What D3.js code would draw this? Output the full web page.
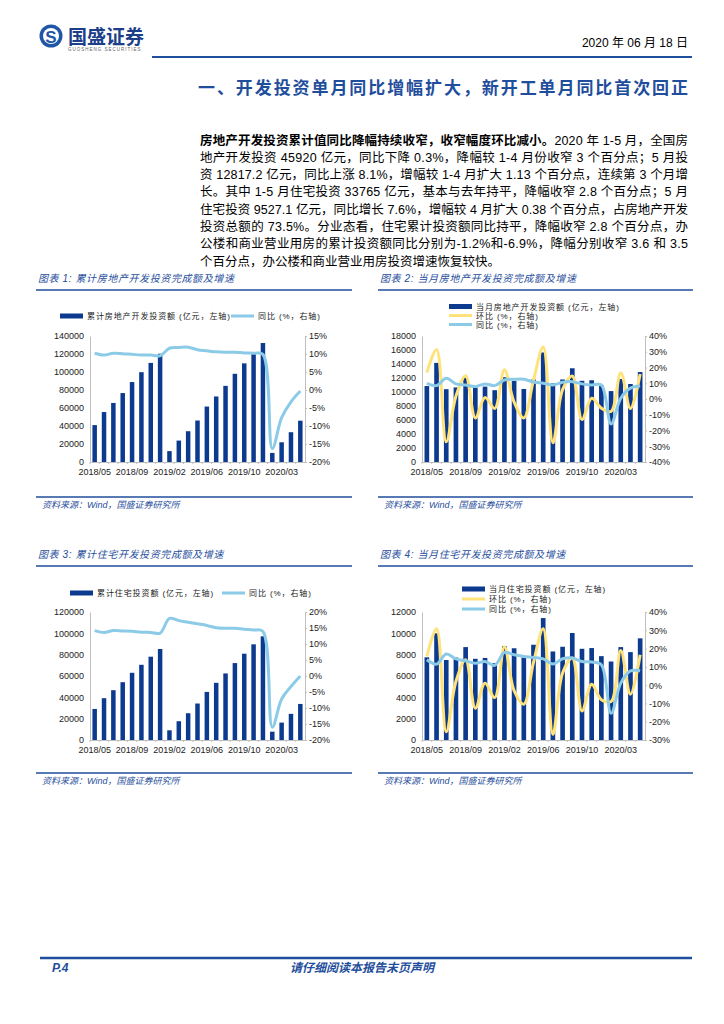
<!DOCTYPE html>
<html>
<head>
<meta charset="utf-8">
<script src="https://cdn.jsdelivr.net/npm/d3@7"></script>
<style>
  body { margin: 0; background: #fff; }
  svg { display: block; }
</style>
</head>
<body>
<svg id="page" width="724" height="1024"></svg>
<script>
// categories shared by all four charts (Jan+Feb reported together)
const categories = ["2018/05","2018/06","2018/07","2018/08","2018/09","2018/10","2018/11","2018/12",
  "2019/02","2019/03","2019/04","2019/05","2019/06","2019/07","2019/08","2019/09","2019/10","2019/11","2019/12",
  "2020/02","2020/03","2020/04","2020/05"];
const tickLabels = ["2018/05","2018/09","2019/02","2019/06","2019/10","2020/03"];

// chart 1: cumulative real estate investment
const cumInvest = [41000, 55500, 65600, 76600, 88800, 99800, 110100, 120300, 12100, 23800, 34200, 46100,
  61600, 72800, 84600, 98000, 109600, 121000, 132200, 10100, 21900, 33100, 45900];
const cumInvestYoy = [10.2, 9.7, 10.2, 10.1, 9.9, 9.7, 9.7, 9.5, 11.6, 11.8, 11.9, 11.2,
  10.9, 10.6, 10.5, 10.5, 10.3, 10.2, 9.9, -16.3, -7.7, -3.3, -0.3];

// chart 2: monthly real estate investment
const monthInvest = [10850, 14160, 10400, 10650, 12030, 10630, 10770, 10260, 12110, 11590, 10430, 11800,
  15650, 11230, 11790, 13390, 11600, 11680, 10960, 10130, 11850, 11140, 12850];
const monthInvestMom = [16.7, 31.5, -27.2, 1.8, 14.8, -12.0, 1.0, -6.0, 18.5, -2.0, -12.0, 12.0,
  33.0, -27.8, 6.0, 14.6, -13.0, 0.5, -5.8, -7.9, 16.7, -6.0, 15.9];
const monthInvestYoy = [10.0, 8.5, 13.1, 9.6, 8.9, 7.9, 9.6, 8.5, 12.1, 12.5, 12.5, 10.8,
  10.0, 8.9, 10.6, 11.0, 9.6, 8.9, 8.9, -15.8, 0.5, 6.9, 8.3];

// chart 3: cumulative residential investment
const cumResi = [29100, 39200, 46700, 54200, 63000, 70500, 78100, 85300, 9100, 17600, 25100, 34200,
  45100, 53600, 62400, 72100, 80900, 89700, 97200, 7800, 16300, 24500, 33800];
const cumResiYoy = [14.2, 13.6, 14.2, 14.1, 14.0, 13.7, 13.6, 13.4, 18.0, 17.3, 16.8, 16.3,
  15.8, 15.1, 14.9, 14.9, 14.6, 14.4, 13.9, -16.0, -7.2, -3.3, 0.0];

// chart 4: monthly residential investment
const monthResi = [7750, 10000, 7500, 7730, 8710, 7610, 7690, 7200, 8800, 8600, 7740, 8930,
  11430, 8300, 8740, 10030, 8550, 8620, 7860, 7360, 8710, 8240, 9530];
const monthResiMom = [15.7, 30.9, -25.5, 2.0, 13.9, -12.6, 1.1, -6.8, 21.0, -3.0, -10.4, 12.5,
  30.9, -26.9, 6.6, 14.8, -14.1, 0.5, -8.0, -9.0, 19.0, -5.0, 16.6];
const monthResiYoy = [13.9, 11.5, 17.0, 14.4, 13.3, 12.0, 12.9, 10.8, 17.9, 16.6, 15.7, 15.1,
  14.4, 11.5, 14.4, 14.8, 12.9, 12.6, 11.1, -15.4, 1.1, 7.8, 7.8];

const paragraph = [
  [["房地产开发投资累计值同比降幅持续收窄，收窄幅度环比减小。", true], ["2020 年 1-5 月，全国房", false]],
  [["地产开发投资 45920 亿元，同比下降 0.3%，降幅较 1-4 月份收窄 3 个百分点；5 月投", false]],
  [["资 12817.2 亿元，同比上涨 8.1%，增幅较 1-4 月扩大 1.13 个百分点，连续第 3 个月增", false]],
  [["长。其中 1-5 月住宅投资 33765 亿元，基本与去年持平，降幅收窄 2.8 个百分点；5 月", false]],
  [["住宅投资 9527.1 亿元，同比增长 7.6%，增幅较 4 月扩大 0.38 个百分点，占房地产开发", false]],
  [["投资总额的 73.5%。分业态看，住宅累计投资额同比持平，降幅收窄 2.8 个百分点，办", false]],
  [["公楼和商业营业用房的累计投资额同比分别为-1.2%和-6.9%，降幅分别收窄 3.6 和 3.5", false]],
  [["个百分点，办公楼和商业营业用房投资增速恢复较快。", false]]
];

const BLUE = "#1f4e9c";
const BAR = "#0b3a8e";
const SKY = "#8ccbe8";
const YELLOW = "#ffe27a";
const CJK = "'Liberation Sans','Noto Sans CJK SC',sans-serif";

const svg = d3.select("#page");

// ---------- header ----------
svg.append("circle").attr("cx", 51).attr("cy", 36).attr("r", 11.5).attr("fill", "#1f56a8");
svg.append("circle").attr("cx", 51).attr("cy", 36).attr("r", 8).attr("fill", "#fff");
svg.append("text").attr("x", 51).attr("y", 42.5).attr("text-anchor", "middle")
  .attr("font-family", CJK).attr("font-weight", "bold").attr("font-size", 17)
  .attr("fill", "#1f56a8").text("S");
svg.append("text").attr("x", 68).attr("y", 44).attr("font-family", CJK)
  .attr("font-weight", "bold").attr("font-size", 19).attr("fill", "#1d3f8a").text("国盛证券");
svg.append("text").attr("x", 68).attr("y", 51).attr("font-family", CJK)
  .attr("font-size", 4.5).attr("letter-spacing", 1).attr("fill", "#666").text("GUOSHENG SECURITIES");
svg.append("text").attr("x", 688).attr("y", 47).attr("text-anchor", "end")
  .attr("font-family", CJK).attr("font-size", 12).attr("fill", "#000").text("2020 年 06 月 18 日");
svg.append("line").attr("x1", 152).attr("x2", 692).attr("y1", 57).attr("y2", 57)
  .attr("stroke", BLUE).attr("stroke-width", 2);

svg.append("text").attr("x", 198).attr("y", 94).attr("font-family", CJK)
  .attr("font-weight", "bold").attr("font-size", 17).attr("fill", BLUE)
  .attr("textLength", 490).attr("lengthAdjust", "spacing")
  .text("一、开发投资单月同比增幅扩大，新开工单月同比首次回正");

// ---------- paragraph ----------
paragraph.forEach((parts, i) => {
  const t = svg.append("text").attr("x", 200).attr("y", 144.5 + i * 17.3)
    .attr("font-family", CJK).attr("font-size", 12.5).attr("fill", "#000");
  if (i < paragraph.length - 1) t.attr("textLength", 488).attr("lengthAdjust", "spacing");
  parts.forEach(([s, bold]) => {
    t.append("tspan").attr("font-weight", bold ? "bold" : "normal").text(s);
  });
});

// ---------- captions / rules ----------
function frame(x0, x1, capY, srcY, caption) {
  svg.append("text").attr("x", x0 + 2).attr("y", capY).attr("font-family", CJK)
    .attr("font-size", 10).attr("font-style", "italic").attr("letter-spacing", 0.6)
    .attr("fill", BLUE).text(caption);
  svg.append("line").attr("x1", x0).attr("x2", x1).attr("y1", capY + 8).attr("y2", capY + 8)
    .attr("stroke", BLUE).attr("stroke-width", 1.5);
  svg.append("line").attr("x1", x0).attr("x2", x1).attr("y1", srcY).attr("y2", srcY)
    .attr("stroke", BLUE).attr("stroke-width", 1.5);
  svg.append("text").attr("x", x0 + 6).attr("y", srcY + 10.5).attr("font-family", CJK)
    .attr("font-size", 9).attr("font-style", "italic").attr("fill", BLUE).text("资料来源：Wind，国盛证券研究所");
}
frame(36, 352, 282, 497, "图表 1:  累计房地产开发投资完成额及增速");
frame(378, 693, 282, 497, "图表 2:  当月房地产开发投资完成额及增速");
frame(36, 352, 558, 773, "图表 3:  累计住宅开发投资完成额及增速");
frame(378, 693, 558, 773, "图表 4:  当月住宅开发投资完成额及增速");

// ---------- charts ----------
function styleAxis(sel) {
  sel.select(".domain").attr("stroke", "#bfbfbf");
  sel.selectAll(".tick line").attr("stroke", "#bfbfbf");
  sel.selectAll("text").attr("font-family", CJK).attr("font-size", 9).attr("fill", "#222");
}

function drawChart(c) {
  const g = svg.append("g");
  const x = d3.scaleBand().domain(categories).range([c.x0, c.x1])
    .paddingInner(0.52).paddingOuter(0.26);
  const yL = d3.scaleLinear().domain(c.yL).range([c.y1, c.y0]);
  const yR = d3.scaleLinear().domain(c.yR).range([c.y1, c.y0]);

  g.append("g").attr("transform", `translate(${c.x0},0)`)
    .call(d3.axisLeft(yL).tickValues(d3.range(c.yL[0], c.yL[1] + 1, c.yLStep))
      .tickSize(0).tickPadding(6).tickFormat(d3.format("d")))
    .call(styleAxis);
  g.append("g").attr("transform", `translate(${c.x1},0)`)
    .call(d3.axisRight(yR).tickValues(d3.range(c.yR[0], c.yR[1] + 0.1, c.yRStep))
      .tickSize(2).tickSizeOuter(0).tickPadding(2).tickFormat(d => d + "%"))
    .call(styleAxis);

  g.selectAll("rect.bar").data(c.bars).join("rect").attr("class", "bar")
    .attr("x", (d, i) => x(categories[i])).attr("width", x.bandwidth())
    .attr("y", d => yL(d)).attr("height", d => yL(0) - yL(d)).attr("fill", BAR);

  const bottom = g.append("g").attr("transform", `translate(0,${c.y1})`)
    .call(d3.axisBottom(x).tickValues(tickLabels).tickSize(0).tickPadding(7).tickSizeOuter(0))
    .call(styleAxis);
  bottom.selectAll(".tick line").remove();
  g.selectAll("line.btick").data(categories).join("line").attr("class", "btick")
    .attr("x1", d => x(d) - x.step() * x.paddingInner() / 2)
    .attr("x2", d => x(d) - x.step() * x.paddingInner() / 2)
    .attr("y1", c.y1).attr("y2", c.y1 + 2).attr("stroke", "#bfbfbf");

  const line = d3.line()
    .x((d, i) => x(categories[i]) + x.bandwidth() / 2)
    .y(d => yR(d))
    .curve(d3.curveCatmullRom.alpha(0.5));
  c.lines.forEach(l => {
    g.append("path").datum(l.data).attr("d", line)
      .attr("fill", "none").attr("stroke", l.color).attr("stroke-width", 3)
      .attr("stroke-linejoin", "round");
  });

  // legend
  c.legend.forEach(it => {
    if (it.type === "bar") {
      g.append("rect").attr("x", it.x).attr("y", it.y - 2.5).attr("width", 23).attr("height", 5).attr("fill", BAR);
    } else {
      g.append("line").attr("x1", it.x).attr("x2", it.x + 23).attr("y1", it.y).attr("y2", it.y)
        .attr("stroke", it.color).attr("stroke-width", 3);
    }
    g.append("text").attr("x", it.x + 27).attr("y", it.y + 3).attr("font-family", CJK)
      .attr("font-size", 8).attr("letter-spacing", 0.9).attr("fill", "#222").text(it.label);
  });
}

drawChart({
  x0: 90, x1: 305, y0: 336, y1: 462,
  yL: [0, 140000], yLStep: 20000, yR: [-20, 15], yRStep: 5,
  bars: cumInvest,
  lines: [{ data: cumInvestYoy, color: SKY }],
  legend: [
    { type: "bar", x: 60, y: 316, label: "累计房地产开发投资额 (亿元，左轴)" },
    { type: "line", x: 231, y: 316, color: SKY, label: "同比 (%，右轴)" }
  ]
});

drawChart({
  x0: 422, x1: 645, y0: 336, y1: 462,
  yL: [0, 18000], yLStep: 2000, yR: [-40, 40], yRStep: 10,
  bars: monthInvest,
  lines: [{ data: monthInvestMom, color: YELLOW }, { data: monthInvestYoy, color: SKY }],
  legend: [
    { type: "bar", x: 449, y: 306.5, label: "当月房地产开发投资额 (亿元，左轴)" },
    { type: "line", x: 449, y: 315.5, color: YELLOW, label: "环比 (%，右轴)" },
    { type: "line", x: 449, y: 324.5, color: SKY, label: "同比 (%，右轴)" }
  ]
});

drawChart({
  x0: 90, x1: 305, y0: 612, y1: 740,
  yL: [0, 120000], yLStep: 20000, yR: [-20, 20], yRStep: 5,
  bars: cumResi,
  lines: [{ data: cumResiYoy, color: SKY }],
  legend: [
    { type: "bar", x: 70, y: 593, label: "累计住宅投资额 (亿元，左轴)" },
    { type: "line", x: 222, y: 593, color: SKY, label: "同比 (%，右轴)" }
  ]
});

drawChart({
  x0: 422, x1: 645, y0: 612, y1: 740,
  yL: [0, 12000], yLStep: 2000, yR: [-30, 40], yRStep: 10,
  bars: monthResi,
  lines: [{ data: monthResiMom, color: YELLOW }, { data: monthResiYoy, color: SKY }],
  legend: [
    { type: "bar", x: 462, y: 589, label: "当月住宅投资额 (亿元，左轴)" },
    { type: "line", x: 462, y: 599, color: YELLOW, label: "环比 (%，右轴)" },
    { type: "line", x: 462, y: 609, color: SKY, label: "同比 (%，右轴)" }
  ]
});

// ---------- footer ----------
svg.append("line").attr("x1", 40).attr("x2", 692).attr("y1", 958).attr("y2", 958)
  .attr("stroke", BLUE).attr("stroke-width", 2.5);
svg.append("text").attr("x", 52).attr("y", 972).attr("font-family", CJK)
  .attr("font-weight", "bold").attr("font-style", "italic").attr("font-size", 12)
  .attr("fill", BLUE).text("P.4");
svg.append("text").attr("x", 362).attr("y", 972).attr("text-anchor", "middle").attr("font-family", CJK)
  .attr("font-weight", "bold").attr("font-style", "italic").attr("font-size", 12)
  .attr("fill", BLUE).text("请仔细阅读本报告末页声明");
</script>
</body>
</html>
